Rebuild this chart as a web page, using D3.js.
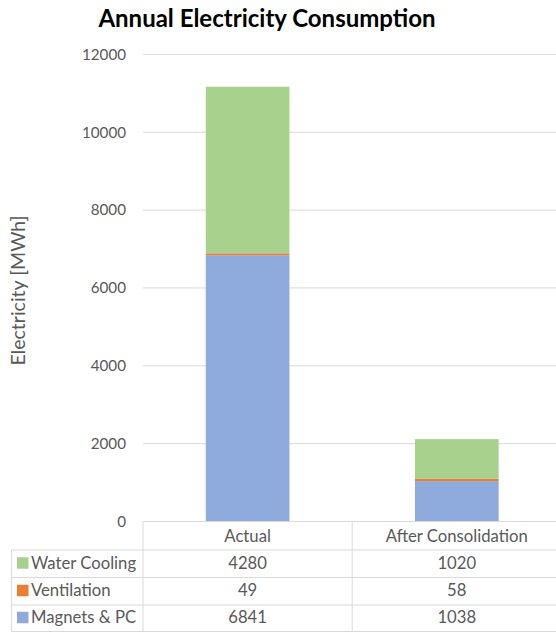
<!DOCTYPE html>
<html><head><meta charset="utf-8">
<script src="https://cdn.jsdelivr.net/npm/d3@7"></script>
<style>body{margin:0;background:#fff}svg{display:block}</style>
</head><body>
<script>
const categories = ["Actual", "After Consolidation"];
const seriesNames = ["Magnets & PC", "Ventilation", "Water Cooling"];
const magnets = [6841, 1038];
const ventilation = [49, 58];
const waterCooling = [4280, 1020];
const yTicks = [0, 2000, 4000, 6000, 8000, 10000, 12000];
const colors = ["#8FAADC", "#ED7D31", "#A9D18E"];

const W = 556, H = 632;
const font = "Lato, 'Open Sans', sans-serif";
const svg = d3.select("body").append("svg").attr("width", W).attr("height", H);

const rows = categories.map((c, i) => ({cat: c, "Magnets & PC": magnets[i], "Ventilation": ventilation[i], "Water Cooling": waterCooling[i]}));
const stack = d3.stack().keys(seriesNames)(rows);

const x = d3.scaleBand().domain(categories).range([143, 561.4]).paddingInner(0.6).paddingOuter(0.3);
const xc = d3.scaleBand().domain(categories).range([143, 561.4]).padding(0);
const y = d3.scaleLinear().domain([0, 12000]).range([521.5, 54.4]);
const color = d3.scaleOrdinal().domain(seriesNames).range(colors);

// title
svg.append("text").attr("x", 267).attr("y", 27).attr("text-anchor", "middle")
  .attr("font-family", font).attr("font-weight", "bold").attr("font-size", 24).attr("fill", "#000")
  .text("Annual Electricity Consumption");

// grid + y axis
const yAxis = d3.axisLeft(y).tickValues(yTicks).tickSize(0).tickPadding(0).tickFormat(d3.format("d"));
const gy = svg.append("g").attr("transform", "translate(126,0)").call(yAxis);
gy.select(".domain").remove();
gy.selectAll("text").attr("font-family", font).attr("font-size", 15.2).attr("fill", "#595959");
svg.append("g").selectAll("line").data(yTicks.filter(d => d > 0)).join("line")
  .attr("x1", 143).attr("x2", W).attr("y1", d => y(d)).attr("y2", d => y(d))
  .attr("stroke", "#D9D9D9").attr("stroke-width", 1);

// y label
svg.append("text").attr("transform", `translate(25,290.5) rotate(-90)`)
  .attr("text-anchor", "middle").attr("font-family", font).attr("font-size", 19.5).attr("fill", "#595959")
  .text("Electricity [MWh]");

// bars
svg.append("g").selectAll("g").data(stack).join("g").attr("fill", d => color(d.key))
  .selectAll("rect").data(d => d).join("rect")
  .attr("x", d => x(d.data.cat)).attr("width", x.bandwidth())
  .attr("y", d => y(d[1])).attr("height", d => y(d[0]) - y(d[1]));

// data table
const tblTop = 521.5, rowH = [28.5, 27.5, 27.5, 26.5];
const rowY = [tblTop]; rowH.forEach((h, i) => rowY.push(rowY[i] + h));
const tbl = svg.append("g").attr("stroke", "#D9D9D9").attr("stroke-width", 1).attr("fill", "none");
rowY.forEach((yy, i) => {
  tbl.append("line").attr("x1", i === 0 ? 143 : 11.5).attr("x2", W).attr("y1", yy).attr("y2", yy);
});
tbl.append("line").attr("x1", 11.5).attr("x2", 11.5).attr("y1", rowY[1]).attr("y2", rowY[4]);
[143, xc(categories[1])].forEach(xx => tbl.append("line").attr("x1", xx).attr("x2", xx).attr("y1", tblTop).attr("y2", rowY[4]));

const txt = (g) => g.attr("font-family", font).attr("font-size", 16.7).attr("fill", "#595959").attr("dominant-baseline", "central");
categories.forEach(c => {
  svg.append("text").call(txt).attr("x", xc(c) + xc.bandwidth()/2).attr("y", (rowY[0]+rowY[1])/2)
    .attr("text-anchor", "middle").text(c);
});
const tableSeries = [
  {name: "Water Cooling", vals: waterCooling},
  {name: "Ventilation", vals: ventilation},
  {name: "Magnets & PC", vals: magnets}
];
tableSeries.forEach((s, i) => {
  const cy = (rowY[i+1] + rowY[i+2]) / 2 - 1;
  svg.append("rect").attr("x", 17).attr("y", cy - 5.5).attr("width", 11.5).attr("height", 11.5).attr("fill", color(s.name));
  svg.append("text").call(txt).attr("x", 31).attr("y", cy).text(s.name);
  categories.forEach((c, j) => {
    svg.append("text").call(txt).attr("x", xc(c) + xc.bandwidth()/2).attr("y", cy)
      .attr("text-anchor", "middle").text(s.vals[j]);
  });
});
</script>
</body></html>
